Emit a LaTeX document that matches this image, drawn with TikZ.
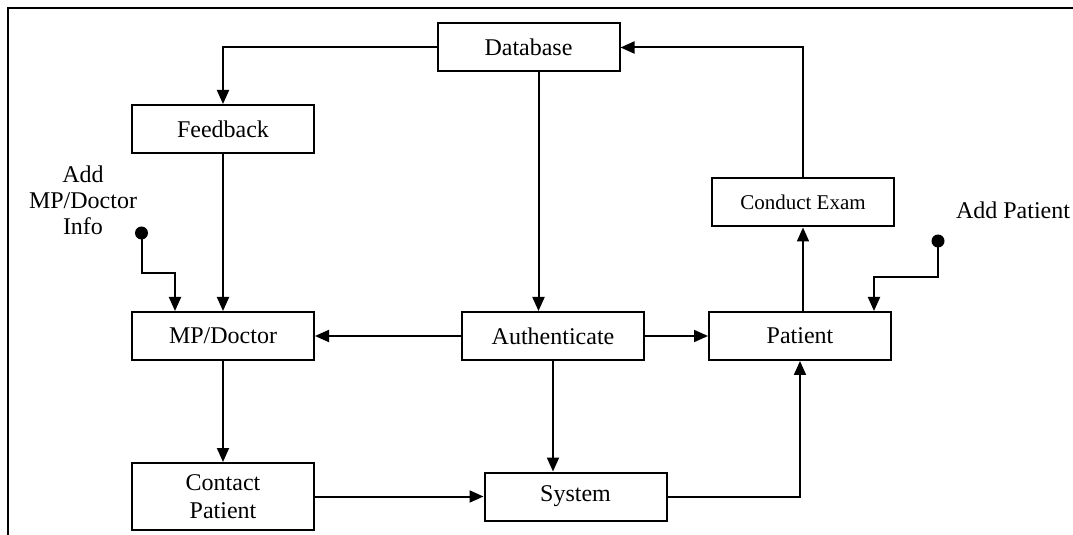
\documentclass[tikz,border=0pt]{standalone}
\usepackage{fontspec}
\setmainfont{Liberation Serif}
\usetikzlibrary{arrows.meta,positioning,calc}
\tikzset{
  blk/.style  ={draw,line width=1pt,align=center,inner sep=0pt,minimum width=91pt,minimum height=24pt},
  tall/.style ={blk,minimum height=33.5pt},
  flow/.style ={-{Triangle[length=7pt,width=6pt]},line width=1pt},
  src/.style  ={circle,fill,inner sep=0pt,minimum size=6.5pt},
  lbl/.style  ={align=center,font=\fontsize{12}{13}\selectfont},
}

\begin{document}
\begin{tikzpicture}[x=0.5pt,y=-0.5pt,font=\fontsize{12}{14}\selectfont]
  \useasboundingbox (0,0) rectangle (1073,535);
  \draw[line width=1.2pt] (8,535) -- (8,8) -- (1073,8);
  \node[blk] (db)   at (528.5,47.5) {Database};
  \node[blk] (fb)   at (223,129)    {Feedback};
  \node[blk] (ce)   at (803,202.5)  {\fontsize{10.5}{12}\selectfont Conduct Exam};
  \node[blk] (mp)   at (223,336)    {MP/Doctor};
  \node[blk] (auth) at (553,336)    {Authenticate};
  \node[blk] (pat)  at (800,336)    {Patient};
  \node[tall] (cp)  at (223,496.5)  {Contact\\Patient};
  \node[blk] (sys)  at (575.5,496.5){System};
  \node[lbl] (addmpl) at (83,200)   {Add\\MP/Doctor\\Info};
  \node[lbl] (addpl)  at (1013,210) {Add Patient};
  \node[src] (addmp) at (141.5,233) {};
  \node[src] (addp)  at (938,241)   {};
  \draw[flow] (db.west) -| (fb.north);
  \draw[flow] ([xshift=5pt]db.south) -- ([xshift=5pt]db.south |- auth.north);
  \draw[flow] (ce.north) |- (db.east);
  \draw[flow] (pat.north -| ce.south) -- (ce.south);
  \draw[flow] (addp.center) -- ++(0,36) -| ([xshift=37pt]pat.north);
  \draw[flow] (addmp.center) -- ++(0,40) -| ([xshift=-24pt]mp.north);
  \draw[flow] (fb.south) -- (mp.north);
  \draw[flow] (auth.west) -- (mp.east);
  \draw[flow] (auth.east) -- (pat.west);
  \draw[flow] (auth.south) -- (auth.south |- sys.north);
  \draw[flow] (mp.south) -- (cp.north);
  \draw[flow] (cp.east) -- (sys.west);
  \draw[flow] (sys.east) -| (pat.south);
\end{tikzpicture}
\end{document}
